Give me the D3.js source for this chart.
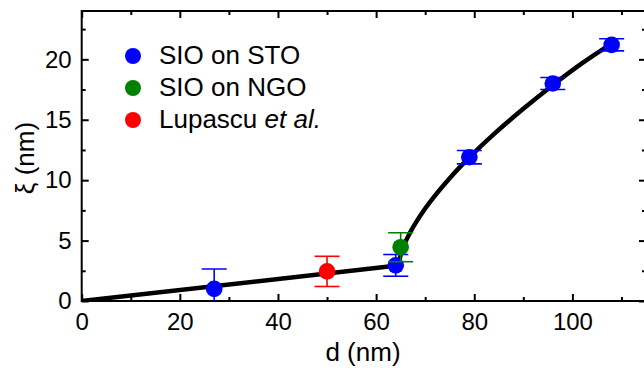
<!DOCTYPE html>
<html>
<head>
<meta charset="utf-8">
<script src="https://cdn.jsdelivr.net/npm/d3@7"></script>
<style>
  html, body { margin: 0; padding: 0; background: #fff; }
  svg { display: block; font-family: Arial, "Liberation Sans", Helvetica, sans-serif; }
</style>
</head>
<body>
<svg id="chart" width="644" height="370"></svg>
<script>
// Correlation length ξ versus film thickness d
const stoD   = [27, 64, 79, 96, 108];
const stoXi  = [1.0, 2.95, 11.9, 18.0, 21.2];
const stoErr = [1.65, 0.9, 0.55, 0.5, 0.5];

const ngoD   = [65];
const ngoXi  = [4.45];
const ngoErr = [1.2];

const lupD   = [50];
const lupXi  = [2.45];
const lupErr = [1.25];

// Fit curve, low-thickness linear branch
const fitLowD  = [0, 64.4];
const fitLowXi = [0, 2.93];
// Fit curve, high-thickness branch
const fitHighD  = [64.6, 65, 65.5, 66, 67, 68, 70, 72, 75, 79, 84, 90, 96, 102, 108];
const fitHighXi = [3.0, 3.83, 4.42, 4.91, 5.72, 6.42, 7.65, 8.72, 10.16, 11.88, 13.81, 15.91, 17.86, 19.68, 21.3];

const xMajor = [0, 20, 40, 60, 80, 100];
const xMinor = [10, 30, 50, 70, 90, 110];
const yMajor = [0, 5, 10, 15, 20];
const yMinor = [2.5, 7.5, 12.5, 17.5, 22.5];

const legendItems = ["SIO on STO", "SIO on NGO", "Lupascu"];
const legendColors = ["#0000ff", "#008000", "#ff0000"];

const svg = d3.select("#chart");
const plotL = 81.7, plotR = 646, plotT = 11, plotB = 301;

const x = d3.scaleLinear().domain([0, 115]).range([plotL, plotR]);
const y = d3.scaleLinear().domain([0, 24]).range([plotB, plotT]);

svg.append("defs").append("clipPath").attr("id", "plotClip")
  .append("rect").attr("x", plotL).attr("y", plotT)
  .attr("width", plotR - plotL).attr("height", plotB - plotT);

const tickFont = 24;
const titleFont = 26;
const axisW = 2;

function styleAxis(g) {
  g.select(".domain").remove();
  g.selectAll("line").attr("stroke", "#000").attr("stroke-width", axisW);
  g.selectAll("text").attr("fill", "#000").style("font-size", tickFont + "px")
    .style("font-family", "Arial, 'Liberation Sans', sans-serif");
}

// bottom axis
svg.append("g").attr("transform", `translate(0,${plotB})`)
  .call(d3.axisBottom(x).tickValues(xMajor).tickSize(-7).tickPadding(12).tickFormat(d3.format("d")))
  .call(styleAxis);
svg.append("g").attr("transform", `translate(0,${plotB})`)
  .call(d3.axisBottom(x).tickValues(xMinor).tickSize(-4).tickFormat(""))
  .call(styleAxis);
// top axis
svg.append("g").attr("transform", `translate(0,${plotT})`)
  .call(d3.axisTop(x).tickValues(xMajor).tickSize(-7).tickFormat(""))
  .call(styleAxis);
svg.append("g").attr("transform", `translate(0,${plotT})`)
  .call(d3.axisTop(x).tickValues(xMinor).tickSize(-4).tickFormat(""))
  .call(styleAxis);
// left axis
svg.append("g").attr("transform", `translate(${plotL},0)`)
  .call(d3.axisLeft(y).tickValues(yMajor).tickSize(-7).tickPadding(10).tickFormat(d3.format("d")))
  .call(styleAxis);
svg.append("g").attr("transform", `translate(${plotL},0)`)
  .call(d3.axisLeft(y).tickValues(yMinor).tickSize(-4).tickFormat(""))
  .call(styleAxis);
// right axis
svg.append("g").attr("transform", `translate(${plotR},0)`)
  .call(d3.axisRight(y).tickValues(yMajor).tickSize(-7).tickFormat(""))
  .call(styleAxis);
svg.append("g").attr("transform", `translate(${plotR},0)`)
  .call(d3.axisRight(y).tickValues(yMinor).tickSize(-4).tickFormat(""))
  .call(styleAxis);

// frame
svg.append("rect").attr("x", plotL).attr("y", plotT)
  .attr("width", plotR - plotL).attr("height", plotB - plotT)
  .attr("fill", "none").attr("stroke", "#000").attr("stroke-width", axisW);

// axis titles
svg.append("text").attr("x", 363).attr("y", 361)
  .attr("text-anchor", "middle").style("font-size", titleFont + "px").text("d (nm)");
svg.append("text")
  .attr("transform", `translate(34,158) rotate(-90)`)
  .attr("text-anchor", "middle").style("font-size", titleFont + "px").text("ξ (nm)");

const plot = svg.append("g").attr("clip-path", "url(#plotClip)");

// fit curves
const line = d3.line().x(d => x(d[0])).y(d => y(d[1]));
plot.append("path").datum(d3.zip(fitLowD, fitLowXi))
  .attr("d", line).attr("fill", "none").attr("stroke", "#000").attr("stroke-width", 4.5)
  .attr("stroke-linecap", "butt");
plot.append("path").datum(d3.zip(fitHighD, fitHighXi))
  .attr("d", line.curve(d3.curveMonotoneX)).attr("fill", "none").attr("stroke", "#000")
  .attr("stroke-width", 4.5);

// data points with error bars
function drawSeries(ds, xs, es, color) {
  const data = d3.zip(ds, xs, es);
  const g = plot.append("g");
  const capHalf = 12.5;
  const eb = g.selectAll(".eb").data(data).join("g");
  eb.append("line")
    .attr("x1", d => x(d[0])).attr("x2", d => x(d[0]))
    .attr("y1", d => y(d[1] - d[2])).attr("y2", d => y(d[1] + d[2]))
    .attr("stroke", color).attr("stroke-width", 1.6);
  eb.append("line")
    .attr("x1", d => x(d[0]) - capHalf).attr("x2", d => x(d[0]) + capHalf)
    .attr("y1", d => y(d[1] + d[2])).attr("y2", d => y(d[1] + d[2]))
    .attr("stroke", color).attr("stroke-width", 1.6);
  eb.append("line")
    .attr("x1", d => x(d[0]) - capHalf).attr("x2", d => x(d[0]) + capHalf)
    .attr("y1", d => y(d[1] - d[2])).attr("y2", d => y(d[1] - d[2]))
    .attr("stroke", color).attr("stroke-width", 1.6);
  g.selectAll(".pt").data(data).join("circle")
    .attr("cx", d => x(d[0])).attr("cy", d => y(d[1])).attr("r", 8.3)
    .attr("fill", color);
}
drawSeries(stoD, stoXi, stoErr, legendColors[0]);
drawSeries(ngoD, ngoXi, ngoErr, legendColors[1]);
drawSeries(lupD, lupXi, lupErr, legendColors[2]);

// legend
const legY = [56, 88, 120];
const leg = svg.append("g");
legendItems.forEach((name, i) => {
  leg.append("circle").attr("cx", 133).attr("cy", legY[i]).attr("r", 8)
    .attr("fill", legendColors[i]);
  const t = leg.append("text").attr("x", 159).attr("y", legY[i]).attr("dy", "0.3em")
    .style("font-size", titleFont + "px").text(name);
  if (i === 2) {
    t.append("tspan").text(" ");
    t.append("tspan").style("font-style", "italic").text("et al.");
  }
});
</script>
</body>
</html>
